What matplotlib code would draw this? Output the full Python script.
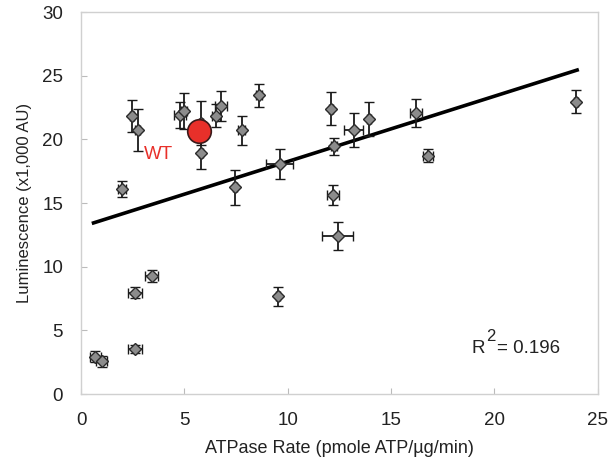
import matplotlib
matplotlib.use('Agg')
import matplotlib.pyplot as plt
import numpy as np

plt.rcParams['font.family'] = ['Liberation Sans', 'DejaVu Sans']

# mutants: ATPase rate vs luminescence (x1,000 AU)
atpase = [0.68, 1.0, 2.61, 2.61, 3.42, 1.98, 2.45, 2.73, 4.78, 4.97, 5.8, 5.78,
          6.53, 6.78, 7.76, 8.61, 7.44, 9.6, 9.51, 12.09, 12.22, 12.18, 12.41,
          13.18, 13.92, 16.2, 16.8, 23.95]
lum = [2.93, 2.59, 3.53, 7.96, 9.29, 16.1, 21.85, 20.73, 21.93, 22.25, 21.3, 18.96,
       21.85, 22.64, 20.73, 23.47, 16.24, 18.07, 7.7, 22.43, 19.45, 15.64, 12.45,
       20.76, 21.59, 22.11, 18.72, 22.95]
atpase_err = [0.27, 0.27, 0.35, 0.34, 0.32, 0.2, 0.1, 0.1, 0.3, 0.15, 0.1, 0.1,
              0.2, 0.3, 0.15, 0.15, 0.1, 0.65, 0.1, 0.1, 0.15, 0.3, 0.75,
              0.45, 0.1, 0.3, 0.25, 0.1]
lum_err = [0.43, 0.43, 0.3, 0.43, 0.45, 0.6, 1.25, 1.65, 1.0, 1.4, 1.7, 1.3,
           0.9, 1.2, 1.15, 0.9, 1.4, 1.2, 0.75, 1.3, 0.7, 0.75, 1.1,
           1.35, 1.35, 1.1, 0.5, 0.9]

# wild type
wt_x = 5.69
wt_y = 20.68

# linear fit
fit_slope = 0.513
fit_intercept = 13.14
r2 = 0.196

fig = plt.figure(figsize=(6.1, 4.67), dpi=100)
ax = fig.add_axes([0.133, 0.156, 0.847, 0.818])

ax.errorbar(atpase, lum, xerr=atpase_err, yerr=lum_err, fmt='D', ms=6,
            mfc='#8c8c8c', mec='#2b2b2b', mew=1.0, ecolor='#1a1a1a',
            elinewidth=1.3, capsize=3.5, capthick=1.3, zorder=3)

fx = np.array([min(atpase) - 0.08, max(atpase) + 0.05])
ax.plot(fx, fit_slope * fx + fit_intercept, color='black', lw=2.6, zorder=2)

ax.plot(wt_x, wt_y, 'o', ms=17, mfc='#e8302a', mec='#3a1a1a', mew=1.2, zorder=5)
ax.text(3.05, 18.8, 'WT', color='#e8302a', fontsize=13.5, ha='left', va='center')

# R^2 label, superscript drawn by hand to keep it full height
ax.text(18.9, 3.22, 'R', fontsize=13.5, ha='left', va='baseline', color='#222222')
ax.text(19.6, 4.15, '2', fontsize=12, ha='left', va='baseline', color='#222222')
ax.text(20.1, 3.22, '= %.3f' % r2, fontsize=13.5, ha='left', va='baseline',
        color='#222222')

ax.set_xlim(0, 25)
ax.set_ylim(0, 30)
ax.set_xticks([0, 5, 10, 15, 20, 25])
ax.set_yticks([0, 5, 10, 15, 20, 25, 30])
ax.tick_params(direction='in', length=4, color='#bbbbbb', labelsize=13.5,
               labelcolor='#222222')
ax.tick_params(axis='y', pad=13)
ax.tick_params(axis='x', pad=13)
for s in ax.spines.values():
    s.set_color('#d0d0d0')
    s.set_linewidth(1.0)

ax.set_xlabel('ATPase Rate (pmole ATP/\u00b5g/min)', fontsize=13,
              color='#222222', labelpad=8)
ax.set_ylabel('Luminescence (x1,000 AU)', fontsize=12, color='#222222',
              labelpad=7)

fig.savefig('out.png', dpi=100)
